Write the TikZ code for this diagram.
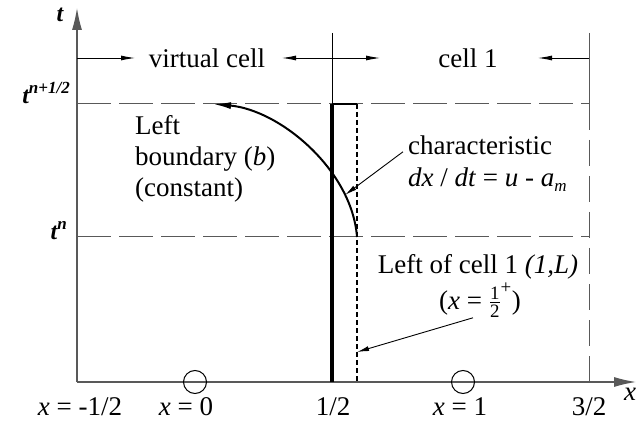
\documentclass[tikz,border=0pt]{standalone}
\usepackage{amsmath}
\usepackage{fontspec}
\setmainfont{Liberation Serif}
\usepackage{tikz}
\usetikzlibrary{arrows.meta, positioning}

\begin{document}
\begin{tikzpicture}[x=1pt, y=-1pt,
    txt/.style={font=\fontsize{27}{31}\selectfont, inner sep=0pt},
    axlbl/.style={font=\fontsize{24}{28}\selectfont\bfseries\itshape, inner sep=0pt},
    axis/.style={draw=black!65, line width=1.3pt, -{Latex[length=22pt, width=10pt]}},
    grid/.style={draw=black!65, line width=1pt, dash pattern=on 34pt off 8pt},
    dimarr/.style={-{Latex[length=14pt, width=5pt]}, line width=0.9pt},
    lead/.style={-{Latex[length=12pt, width=5pt]}, line width=0.9pt},
    cell/.style={circle, draw, line width=1pt, minimum size=23pt, inner sep=0pt}
]
    \useasboundingbox (0,0) rectangle (636,427);
    % points of the grid
    \coordinate (O)    at (77,382);
    \coordinate (tend) at (77,8);
    \coordinate (xend) at (636,382);
    \coordinate (tn0)  at (77,237);
    \coordinate (tn1)  at (589,237);
    \coordinate (th0)  at (77,104);
    \coordinate (th1)  at (589,104);
    \coordinate (mtop) at (332,33);
    \coordinate (mh)   at (332,104);
    \coordinate (mbot) at (332,382);
    \coordinate (rtop) at (589,33);
    \coordinate (rbot) at (589,382);
    \coordinate (dh)   at (357,104);
    \coordinate (foot) at (357,237);
    \coordinate (dbot) at (357,382);
    \coordinate (head) at (213,104);
    \coordinate (chB)  at (345,195);
    \coordinate (lfB)  at (357,352);

    % time levels
    \draw[grid] (th0) -- (th1);
    \draw[grid] (tn0) -- (tn1);
    \draw[draw=black!65, line width=1pt] (rtop) -- (th1);
    \draw[grid, dash pattern=on 26pt off 10pt] (th1) -- (rbot);

    % axes
    \draw[axis] (O) -- (tend);
    \draw[axis] (O) -- (xend);
    \node[axlbl, anchor=base] (tlab) at (60,22) {t};
    \node[axlbl, anchor=base east] (tnh) at (70,104)
        {t\raisebox{10pt}{\fontsize{17}{17}\selectfont n+1/2}};
    \node[axlbl, anchor=base east] (tn) at (67,240)
        {t\raisebox{10pt}{\fontsize{17}{17}\selectfont n}};
    \node[txt, anchor=base west] (xlab) at (624,400) {\textit{x}};

    % cell boundaries
    \draw[line width=1pt] (mtop) -- (mh);
    \draw[line width=3.5pt] (mh) -- (mbot);
    \draw[line width=1.5pt] (mh) -- (dh);
    \draw[line width=1.5pt, dash pattern=on 5pt off 3pt] (dh) -- (dbot);

    % cell names
    \node[txt] (vcell) at (207,58) {virtual cell};
    \node[txt] (cell1) at (468,58) {cell 1};
    \coordinate (a0) at (77,58);
    \coordinate (a1) at (135,58);
    \coordinate (a2) at (332,58);
    \coordinate (a3) at (282,58);
    \coordinate (a4) at (380,58);
    \coordinate (a5) at (589,58);
    \coordinate (a6) at (538,58);
    \draw[dimarr] (a0) -- (a1);
    \draw[dimarr] (a2) -- (a3);
    \draw[dimarr] (a2) -- (a4);
    \draw[dimarr] (a5) -- (a6);

    % characteristic
    \draw[line width=2pt, -{Latex[length=18pt, width=7pt]}]
        (foot) .. controls (352,170) and (280,110) .. (head);
    \node[txt, anchor=north west, align=left] (bnd) at (135,115)
        {Left\\boundary (\textit{b})\\(constant)};
    \node[txt, anchor=base west] (char1) at (408,155) {characteristic};
    \node[txt, anchor=base west] (char2) at (408,187)
        {\textit{dx} / \textit{dt} = \textit{u} - \textit{a}\raisebox{-5pt}{\fontsize{17}{17}\selectfont\textit{m}}};
    \draw[lead] ([shift={(-5,6)}]char1.west) -- (chB);

    % left state of cell 1
    \node[txt, anchor=base] (left1) at (478,273) {Left of cell 1 \textit{(1,L)}};
    \node[txt, anchor=base] (half) at (480,309)
        {(\textit{x} = $\frac{\text{1}}{\text{2}}^{\text{+}}$)};
    \draw[lead] ([xshift=-7pt]half.south) -- (lfB);

    % cell centres
    \node[cell] (c0) at (195,382) {};
    \node[cell] (c1) at (463,382) {};

    % x positions
    \node[txt, anchor=base] (xm) at (80,415) {\textit{x} = -1/2};
    \node[txt, anchor=base] (x0) at (186,415) {\textit{x} = 0};
    \node[txt, anchor=base] (xh) at (333,415) {1/2};
    \node[txt, anchor=base] (x1) at (460,415) {\textit{x} = 1};
    \node[txt, anchor=base] (x3) at (589,415) {3/2};
\end{tikzpicture}
\end{document}
